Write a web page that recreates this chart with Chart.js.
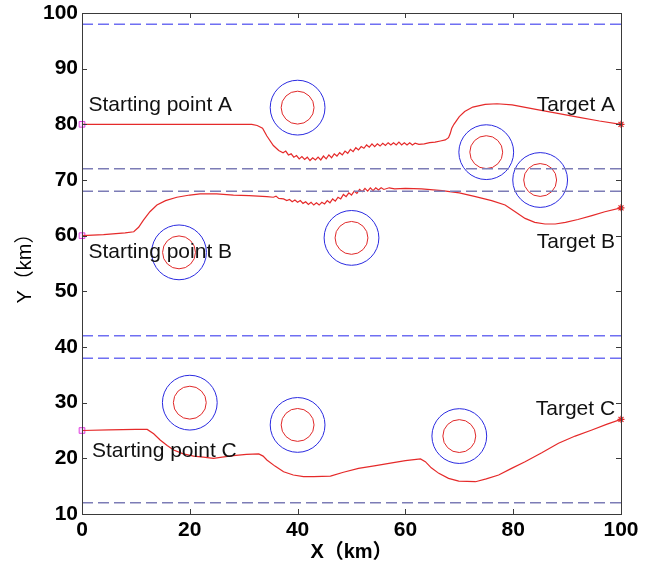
<!DOCTYPE html>
<html>
<head>
<meta charset="utf-8">
<script src="https://cdn.jsdelivr.net/npm/chart.js@4.4.0/dist/chart.umd.min.js"></script>
<style>
  html, body { margin: 0; padding: 0; background: #fff; overflow: hidden; }
  #wrap { position: relative; width: 655px; height: 568px; }
</style>
</head>
<body>
<div id="wrap"><canvas id="pathChart"></canvas></div>
<script>
// Axis ticks
const xTicks = [0, 20, 40, 60, 80, 100];
const yTicks = [10, 20, 30, 40, 50, 60, 70, 80, 90, 100];

// Lane boundaries (km)
const boundaryY = [98, 72, 68, 42, 38, 12];

// Threat circles: centres and radii (km)
const obstacleX = [40, 75, 85, 18, 50, 20, 40, 70];
const obstacleY = [83, 75, 70, 57, 59.6, 30, 26, 24];
const innerRadius = 3;
const outerRadius = 5;

// Flight paths [x, y]
const pathA = [[0,80],[10,80],[20,80],[30,80],[31.5,80],[32.5,79.8],[33.5,79.3],[34.3,77.9],[35.5,76.2],[36.5,75.3],
  [37.3,74.9],[37.8,75.2],[38.3,74.5],[38.8,74.7],[39.3,74.1],[39.8,74.4],[40.3,73.8],[40.8,74.2],[41.3,73.7],[41.8,74.1],
  [42.3,73.5],[42.8,74.0],[43.3,73.6],[43.8,74.1],[44.3,73.6],[44.8,74.3],[45.3,73.8],[45.8,74.5],[46.3,74.0],[46.8,74.7],
  [47.3,74.3],[47.8,74.9],[48.3,74.5],[48.8,75.2],[49.3,74.8],[49.8,75.5],[50.3,75.1],[50.8,75.8],[51.3,75.4],[51.8,76.0],
  [52.3,75.7],[52.8,76.3],[53.3,75.9],[53.8,76.5],[54.3,76.0],[54.8,76.5],[55.3,76.1],[55.8,76.6],[56.3,76.2],[56.8,76.7],
  [57.3,76.3],[57.8,76.7],[58.3,76.3],[58.8,76.8],[59.3,76.3],[59.8,76.7],[60.3,76.3],[60.8,76.7],[61.3,76.3],[61.8,76.6],
  [62.5,76.4],[63.5,76.5],[64.5,76.7],[65.5,76.8],[66.5,77.0],[67.4,77.2],[68,77.6],[68.3,78.3],[68.6,79.3],[69,80.0],
  [70,81.4],[71,82.3],[72.5,83.1],[74.8,83.6],[77,83.7],[79.8,83.5],[82,83.1],[84.7,82.6],[88,82.0],[92,81.3],[96,80.6],[100,80]];
const pathB = [[0,60],[4,60.2],[8,60.5],[9.6,60.7],[10.5,61.5],[11.4,62.8],[12.6,64.3],[13.9,65.5],[15.5,66.3],[17.6,66.9],
  [20,67.3],[21.9,67.5],[25,67.5],[28.1,67.3],[31,67.2],[34.3,67.0],[35.5,66.9],[36,67.1],[36.5,66.7],[37.4,66.6],
  [38,66.3],[38.5,66.5],[39,66.1],[39.5,66.4],[40,66.0],[40.5,66.3],[41,65.8],[41.5,66.1],[42,65.6],[42.5,66.0],
  [43,65.5],[43.5,65.9],[44,65.5],[44.5,66.0],[45,65.7],[45.5,66.3],[46,65.9],[46.5,66.6],[47,66.2],[47.5,66.9],
  [48,66.6],[48.5,67.4],[49,67.0],[49.5,67.7],[50,67.3],[50.5,68.0],[51,67.6],[51.5,68.3],[52,67.9],[52.5,68.5],
  [53,68.0],[53.5,68.6],[54,68.1],[54.5,68.6],[55,68.2],[55.5,68.6],[56,68.3],[57,68.6],[58,68.4],[60,68.5],
  [63,68.4],[66.8,68.1],[70,67.7],[73,67.0],[76,66.3],[78.5,65.5],[80.5,64.2],[82.2,63.1],[84,62.4],[85.9,62.1],
  [87.8,62.1],[89.7,62.4],[92,62.9],[94.6,63.6],[97,64.3],[100,65]];
const pathC = [[0,25],[5,25.1],[10,25.2],[12.1,25.2],[13.3,24.4],[14.5,23.3],[15.8,22.3],[17,21.5],[18.8,20.8],[20.7,20.4],
  [22.5,20.2],[24.4,20.0],[26,20.2],[28.1,20.5],[30.5,20.7],[32.8,20.8],[33.6,20.4],[34.3,19.7],[35.8,18.6],[37.4,17.6],
  [39.2,17.0],[41.1,16.7],[43,16.7],[46.1,16.8],[48.5,17.5],[51.3,18.2],[54.5,18.7],[57.5,19.2],[60,19.6],[62.8,19.9],
  [63.7,19.4],[64.8,18.3],[66.2,17.3],[68,16.4],[69.9,15.9],[73,15.8],[75,16.3],[77.3,17],[79.7,18.2],[82.2,19.4],
  [85.3,21],[88.4,22.7],[91.5,24],[94.6,25.1],[97.3,26.1],[100,27]];

const startPoints = [[0,80],[0,60],[0,25]];
const targetPoints = [[100,80],[100,65],[100,27]];

// Text labels
const labelText = ['Starting point A', 'Starting point B', 'Starting point C', 'Target A', 'Target B', 'Target C'];
const labelX = [1.2, 1.2, 1.85, 98.9, 98.9, 98.9];
const labelY = [82.4, 56.0, 20.3, 82.4, 57.8, 27.8];

const fontFamily = '"Liberation Sans", Arial, "Noto Sans CJK SC", sans-serif';
const boundaryColors = ['#6f6ff2', '#7c7cb6', '#7c7cb6', '#6f6ff2', '#6f6ff2', '#7c7cb6'];

function toXY(arr) {
  return arr.map(p => ({ x: p[0], y: p[1] }));
}

function radiusPx(r) {
  return function(c) {
    const s = c.chart.scales;
    const rx = s.x.getPixelForValue(r) - s.x.getPixelForValue(0);
    const ry = s.y.getPixelForValue(0) - s.y.getPixelForValue(r);
    return (rx + ry) / 2;
  };
}

const centres = obstacleX.map((x, i) => ({ x: x, y: obstacleY[i] }));

const datasets = [];

// boundaries
boundaryY.forEach((y, i) => {
  datasets.push({
    data: [{ x: 0, y: y }, { x: 100, y: y }],
    showLine: true,
    borderColor: boundaryColors[i],
    borderWidth: 1.5,
    borderDash: [11, 5],
    pointRadius: 0
  });
});

// circles
datasets.push({
  data: centres,
  pointStyle: 'circle',
  pointRadius: radiusPx(outerRadius),
  pointBackgroundColor: 'rgba(0,0,0,0)',
  pointBorderColor: '#2a2ae0',
  pointBorderWidth: 1
});
datasets.push({
  data: centres,
  pointStyle: 'circle',
  pointRadius: radiusPx(innerRadius),
  pointBackgroundColor: 'rgba(0,0,0,0)',
  pointBorderColor: '#e02828',
  pointBorderWidth: 1
});

// paths
[pathA, pathB, pathC].forEach(p => {
  datasets.push({
    data: toXY(p),
    showLine: true,
    borderColor: '#e52a2a',
    borderWidth: 1.2,
    pointRadius: 0,
    tension: 0
  });
});

// start / target markers
datasets.push({
  data: toXY(startPoints),
  clip: false,
  pointStyle: 'rect',
  pointRadius: 4,
  pointBackgroundColor: 'rgba(255,0,255,0.12)',
  pointBorderColor: '#e040e0',
  pointBorderWidth: 1
});
datasets.push({
  data: toXY(targetPoints),
  clip: false,
  pointStyle: 'star',
  pointRadius: 3.5,
  pointBorderColor: '#e02020',
  pointBorderWidth: 1.2
});

// Box, inward ticks and text labels
const framePlugin = {
  id: 'frame',
  afterDatasetsDraw(chart) {
    const ctx = chart.ctx;
    const a = chart.chartArea;
    const sx = chart.scales.x;
    const sy = chart.scales.y;
    ctx.save();
    ctx.strokeStyle = '#3a3a3a';
    ctx.lineWidth = 1;
    ctx.strokeRect(Math.round(a.left) + 0.5, Math.round(a.top) + 0.5,
      Math.round(a.right - a.left), Math.round(a.bottom - a.top));
    ctx.beginPath();
    xTicks.forEach(v => {
      const px = Math.round(sx.getPixelForValue(v)) + 0.5;
      ctx.moveTo(px, a.bottom); ctx.lineTo(px, a.bottom - 5);
      ctx.moveTo(px, a.top); ctx.lineTo(px, a.top + 5);
    });
    yTicks.forEach(v => {
      const py = Math.round(sy.getPixelForValue(v)) + 0.5;
      ctx.moveTo(a.left, py); ctx.lineTo(a.left + 5, py);
      ctx.moveTo(a.right, py); ctx.lineTo(a.right - 5, py);
    });
    ctx.stroke();

    ctx.fillStyle = '#111';
    ctx.font = '21px ' + fontFamily;
    ctx.textBaseline = 'alphabetic';
    labelText.forEach((t, i) => {
      ctx.textAlign = labelX[i] > 50 ? 'right' : 'left';
      ctx.fillText(t, sx.getPixelForValue(labelX[i]), sy.getPixelForValue(labelY[i]));
    });
    ctx.restore();
  }
};

new Chart(document.getElementById('pathChart'), {
  type: 'scatter',
  data: { datasets: datasets },
  options: {
    responsive: true,
    maintainAspectRatio: false,
    animation: false,
    events: [],
    layout: { padding: { left: 0, right: 34, top: 13, bottom: 0 } },
    plugins: {
      legend: { display: false },
      tooltip: { enabled: false }
    },
    scales: {
      x: {
        type: 'linear',
        min: 0,
        max: 100,
        grid: { display: false, drawTicks: false },
        border: { display: false },
        ticks: {
          stepSize: 20,
          padding: 4,
          color: '#000',
          font: { family: fontFamily, size: 21, weight: 'bold' }
        },
        title: {
          display: true,
          text: 'X（km）',
          color: '#000',
          font: { family: fontFamily, size: 20, weight: 'bold' },
          padding: { top: 0, bottom: 4 }
        },
        afterFit(scale) { scale.height = 54; }
      },
      y: {
        type: 'linear',
        min: 10,
        max: 100,
        grid: { display: false, drawTicks: false },
        border: { display: false },
        ticks: {
          stepSize: 10,
          padding: 4,
          color: '#000',
          font: { family: fontFamily, size: 21, weight: 'bold', lineHeight: 0.85 }
        },
        title: {
          display: true,
          text: 'Y（km）',
          color: '#000',
          font: { family: fontFamily, size: 20 },
          padding: { top: 13, bottom: 0 }
        },
        afterFit(scale) { scale.width = 82; }
      }
    }
  },
  plugins: [framePlugin]
});
</script>
</body>
</html>
